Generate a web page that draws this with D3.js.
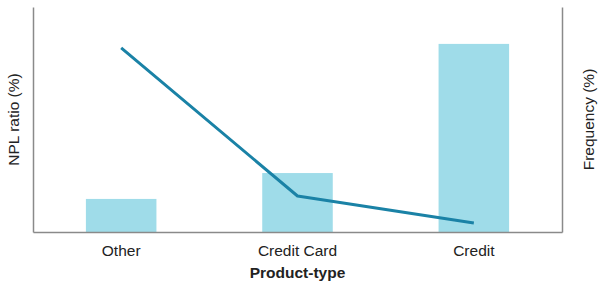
<!DOCTYPE html>
<html><head><meta charset="utf-8">
<script src="https://cdn.jsdelivr.net/npm/d3@7"></script>
<style>body{margin:0;background:#fff}text{font-family:"Liberation Sans",Arial,sans-serif;fill:#222}</style>
</head><body><svg id="c" width="600" height="282"></svg>
<script>
const categories = ["Other", "Credit Card", "Credit"];
const frequency = [14.7, 26.2, 83.6];
const nplRatio = [81.8, 16.0, 4.0];

const svg = d3.select("#c");
const m = {l: 33, r: 38, t: 7, b: 50};
const W = 600, H = 282;
const FS = 15.5;
const x = d3.scaleBand().domain(categories).range([m.l, W - m.r]).paddingInner(0.6).paddingOuter(0.3);
const yF = d3.scaleLinear().domain([0, 100]).range([H - m.b, m.t]);
const yN = d3.scaleLinear().domain([0, 100]).range([H - m.b, m.t]);

svg.selectAll("rect.bar").data(categories).join("rect").attr("class", "bar")
  .attr("x", d => x(d)).attr("width", x.bandwidth())
  .attr("y", (d, i) => yF(frequency[i])).attr("height", (d, i) => yF(0) - yF(frequency[i]))
  .attr("fill", "#9fdce9");

const line = d3.line().x((d, i) => x(categories[i]) + x.bandwidth() / 2).y(d => yN(d));
svg.append("path").attr("d", line(nplRatio)).attr("fill", "none")
  .attr("stroke", "#1a82a6").attr("stroke-width", 3).attr("stroke-linejoin", "round");

const axisColor = "#8a8a8a";
const gx = svg.append("g").attr("transform", `translate(0,${H - m.b})`)
  .call(d3.axisBottom(x).tickSize(0).tickPadding(13));
gx.select(".domain").attr("stroke", axisColor).attr("stroke-width", 1.5);
gx.selectAll("text").attr("font-size", FS).style("font-family", '"Liberation Sans",Arial,sans-serif').attr("fill", "#222");

const gl = svg.append("g").attr("transform", `translate(${m.l},0)`).call(d3.axisLeft(yN).ticks(0).tickSize(0).tickFormat(""));
gl.select(".domain").attr("stroke", axisColor).attr("stroke-width", 1.5);
const gr = svg.append("g").attr("transform", `translate(${W - m.r},0)`).call(d3.axisRight(yF).ticks(0).tickSize(0).tickFormat(""));
gr.select(".domain").attr("stroke", axisColor).attr("stroke-width", 1.5);

svg.append("text").attr("x", (m.l + W - m.r) / 2).attr("y", 278).attr("text-anchor", "middle")
  .attr("font-size", FS).attr("font-weight", "bold").text("Product-type");
svg.append("text").attr("transform", `translate(19,${(m.t + H - m.b) / 2}) rotate(-90)`).attr("text-anchor", "middle")
  .attr("font-size", FS).text("NPL ratio (%)");
svg.append("text").attr("transform", `translate(594,${(m.t + H - m.b) / 2}) rotate(-90)`).attr("text-anchor", "middle")
  .attr("font-size", FS).text("Frequency (%)");
</script></body></html>
